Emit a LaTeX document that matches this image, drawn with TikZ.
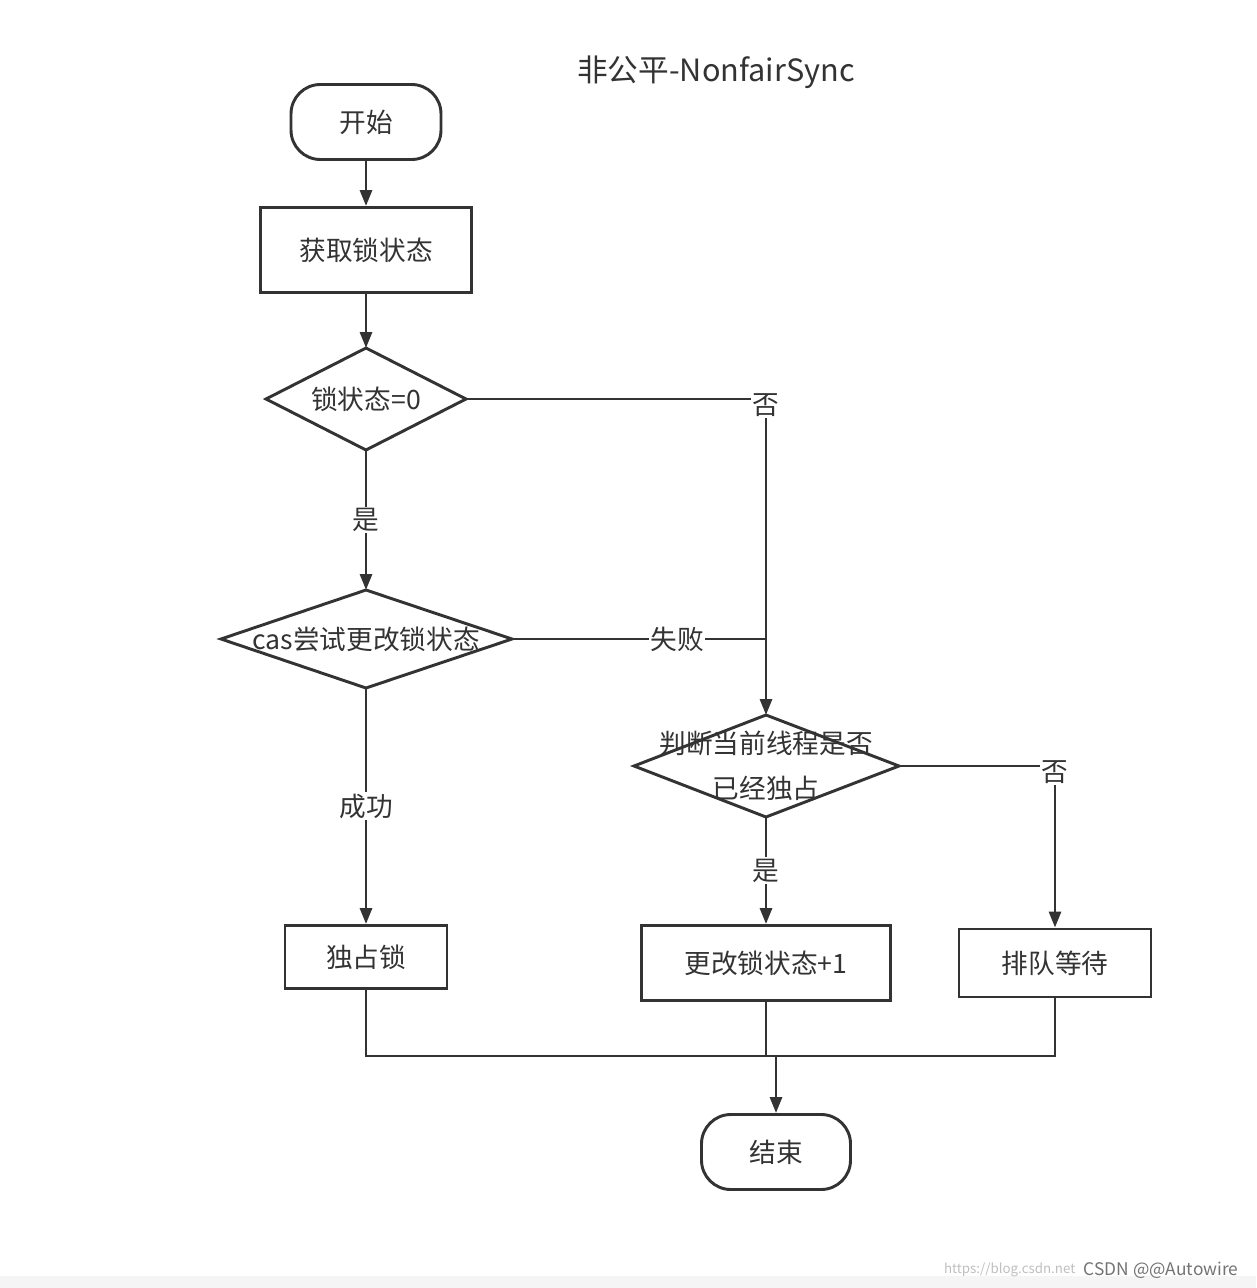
\documentclass[tikz,border=0pt]{standalone}
\usepackage{fontspec}
\setmainfont{Noto Sans CJK SC}
\usetikzlibrary{shapes.geometric,arrows.meta}
\definecolor{ln}{HTML}{333333}
\begin{document}
\begin{tikzpicture}[x=0.75pt,y=-0.75pt,
  every node/.style={font=\fontsize{20pt}{22pt}\selectfont,text=ln},
  box/.style={draw=ln,line width=2.2pt,minimum width=#1},
  dia/.style={draw=ln,line width=2.2pt,diamond,aspect=2,inner sep=0pt},
  ed/.style={draw=ln,line width=2.2pt},
  ar/.style={ed,-{Triangle[length=12pt,width=9pt]}},
  lab/.style={fill=white,inner sep=1pt}]
\useasboundingbox[fill=white] (0,0) rectangle (1256,1288);
\fill[black!4] (0,1276) rectangle (1256,1288);
\node (title) at (716,72) {\fontsize{23pt}{25pt}\selectfont 非公平-NonfairSync};
\node[box,rounded corners=22pt,minimum width=150*0.75pt,minimum height=75*0.75pt] (start) at (366,122) {开始};
\node[box,minimum width=211*0.75pt,minimum height=85*0.75pt] (get) at (366,250) {获取锁状态};
\draw[ed,fill=white] (266,399) -- (366,348) -- (466,399) -- (366,450) -- cycle;
\node (d1) at (366,399) {锁状态=0};
\coordinate (d1t) at (366,348); \coordinate (d1b) at (366,450); \coordinate (d1r) at (466,399);
\draw[ed,fill=white] (221,639) -- (366,590) -- (512,639) -- (366,688) -- cycle;
\node (cas) at (366,639) {cas尝试更改锁状态};
\coordinate (cast) at (366,590); \coordinate (casb) at (366,688); \coordinate (casr) at (512,639);
\draw[ed,fill=white] (634,766) -- (766,715) -- (899,766) -- (766,817) -- cycle;
\node[align=center,font=\fontsize{20pt}{34pt}\selectfont] (judge) at (766,766) {判断当前线程是否\\已经独占};
\coordinate (jt) at (766,715); \coordinate (jb) at (766,817); \coordinate (jr) at (899,766);
\node[box,minimum width=162*0.75pt,minimum height=63*0.75pt] (own) at (366,957) {独占锁};
\node[box,minimum width=249*0.75pt,minimum height=75*0.75pt] (inc) at (766,963) {更改锁状态+1};
\node[box,minimum width=192*0.75pt,minimum height=68*0.75pt] (queue) at (1055,963) {排队等待};
\node[box,rounded corners=22pt,minimum width=149*0.75pt,minimum height=75*0.75pt] (end) at (776,1152) {结束};
\coordinate (c1) at (766,399); \coordinate (c2) at (766,639); \coordinate (c3) at (1055,766);
\coordinate (m) at (776,1056);
\draw[ar] (start) -- (get);
\draw[ar] (get) -- (d1t);
\draw[ar] (d1b) -- node[lab]{是} (cast);
\draw[ed] (d1r) -- (c1);
\draw[ar] (c1) -- node[lab,pos=0.02]{否} (jt);
\draw[ed] (casr) -- node[lab,pos=0.65]{失败} (c2);
\draw[ar] (casb) -- node[lab,pos=0.5]{成功} (own);
\draw[ar] (jb) -- node[lab]{是} (inc);
\draw[ed] (jr) -- (c3);
\draw[ar] (c3) -- node[lab,pos=0.04]{否} (queue);
\draw[ed] (own.south) |- (m);
\draw[ed] (inc.south) -- (766,1056);
\draw[ed] (queue.south) |- (m);
\draw[ar] (m) -- (end);
\node[text=black!25,font=\fontsize{10pt}{12pt}\selectfont,anchor=east] (wm1) at (1080,1270) {https://blog.csdn.net};
\node[text=black!55,font=\fontsize{13pt}{14pt}\selectfont,anchor=east] (wm) at (1243,1270) {CSDN @@Autowire};
\end{tikzpicture}
\end{document}
